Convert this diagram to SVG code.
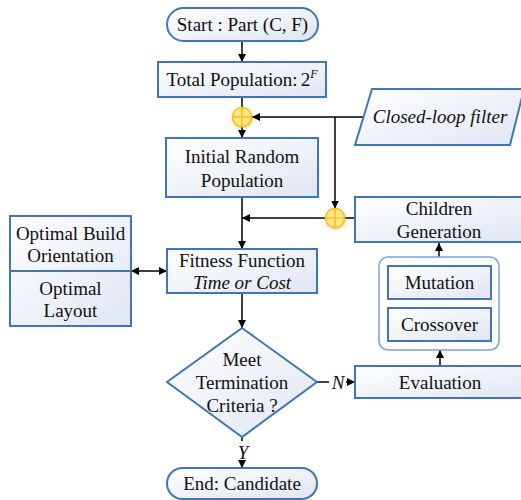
<svg xmlns="http://www.w3.org/2000/svg" width="521" height="500" viewBox="0 0 521 500">
  <defs>
    <linearGradient id="boxFill" x1="0" y1="0" x2="1" y2="1">
      <stop offset="0" stop-color="#ffffff"/>
      <stop offset="1" stop-color="#dfe6f3"/>
    </linearGradient>
    <marker id="arrow" viewBox="0 0 10 10" refX="10" refY="5" markerWidth="8" markerHeight="8" orient="auto-start-reverse" markerUnits="userSpaceOnUse">
      <path d="M0,0 L10,5 L0,10 z" fill="#000"/>
    </marker>
    <filter id="glow" x="-50%" y="-50%" width="200%" height="200%">
      <feDropShadow dx="0.5" dy="1" stdDeviation="0.8" flood-color="#c09000" flood-opacity="0.5"/>
    </filter>
    <g id="sum">
      <circle r="9.5" fill="#ffe699" stroke="#ffc000" stroke-width="1.5" filter="url(#glow)"/>
      <path d="M-9.5,0 H9.5 M0,-9.5 V9.5" stroke="#ffc000" stroke-width="1.5"/>
    </g>
  </defs>
  <style>
    .shape { fill: url(#boxFill); stroke: #3f76b8; stroke-width: 2; }
    .outer { fill: #ffffff; stroke: #7aa3d4; stroke-width: 1.5; }
    .lbl { font-family: "Liberation Serif", "DejaVu Serif", serif; font-size: 19px; fill: #111; text-anchor: middle; }
    .it { font-style: italic; }
    .wire { fill: none; stroke: #000; stroke-width: 1.5; }
  </style>

  <!-- connectors -->
  <g id="connectors">
    <path class="wire" d="M242,41 V62" marker-end="url(#arrow)"/>
    <path class="wire" d="M242,97 V107.5"/>
    <path class="wire" d="M242,126.5 V138" marker-end="url(#arrow)"/>
    <path class="wire" d="M364,117 H252" marker-end="url(#arrow)"/>
    <path class="wire" d="M335,117 V208.5" marker-end="url(#arrow)"/>
    <path class="wire" d="M355,218 H344.5"/>
    <path class="wire" d="M325.5,218 H242" marker-end="url(#arrow)"/>
    <path class="wire" d="M242,197 V249" marker-end="url(#arrow)"/>
    <path class="wire" d="M131,271 H167" marker-start="url(#arrow)" marker-end="url(#arrow)"/>
    <path class="wire" d="M242,293 V328" marker-end="url(#arrow)"/>
    <path class="wire" d="M317,382 H329"/>
    <path class="wire" d="M346,382 H355" marker-end="url(#arrow)"/>
    <path class="wire" d="M440,366 V350" marker-end="url(#arrow)"/>
    <path class="wire" d="M439,257 V243" marker-end="url(#arrow)"/>
    <path class="wire" d="M242,437 V441"/>
    <path class="wire" d="M242,463 V468" marker-end="url(#arrow)"/>
    <text class="lbl it" x="338" y="389">N</text>
    <text class="lbl it" x="243" y="459">Y</text>
  </g>

  <g id="start">
    <rect class="shape" x="167" y="8" width="151" height="33" rx="16.5"/>
    <text class="lbl" x="242.5" y="31">Start : Part (C, F)</text>
  </g>

  <g id="total-population">
    <rect class="shape" x="158" y="62" width="168" height="35"/>
    <text class="lbl" x="242" y="86">Total Population:<tspan dx="3">2</tspan><tspan class="it" font-size="12" dy="-8">F</tspan></text>
  </g>

  <g id="sum-top"><use href="#sum" x="242" y="117"/></g>

  <g id="closed-loop-filter">
    <polygon class="shape" points="372,89 524,89 510,145 355,145"/>
    <text class="lbl it" x="440" y="123">Closed-loop filter</text>
  </g>

  <g id="initial-population">
    <rect class="shape" x="166" y="138" width="152" height="59"/>
    <text class="lbl" x="242" y="163">Initial Random</text>
    <text class="lbl" x="242" y="187">Population</text>
  </g>

  <g id="sum-children"><use href="#sum" x="335" y="218"/></g>

  <g id="children-generation">
    <rect class="shape" x="355" y="197" width="168" height="45"/>
    <text class="lbl" x="439" y="215">Children</text>
    <text class="lbl" x="439" y="238">Generation</text>
  </g>

  <g id="optimal">
    <rect class="shape" x="10" y="216" width="121" height="110"/>
    <line x1="10" y1="271" x2="131" y2="271" stroke="#3f76b8" stroke-width="2"/>
    <text class="lbl" x="70.5" y="240">Optimal Build</text>
    <text class="lbl" x="70.5" y="262">Orientation</text>
    <text class="lbl" x="70.5" y="295">Optimal</text>
    <text class="lbl" x="70.5" y="317">Layout</text>
  </g>

  <g id="fitness">
    <rect class="shape" x="167" y="249" width="150" height="44"/>
    <text class="lbl" x="242" y="267">Fitness Function</text>
    <text class="lbl it" x="242" y="289">Time or Cost</text>
  </g>

  <g id="operators">
    <rect class="outer" x="379" y="257" width="120" height="93" rx="9"/>
    <rect class="shape" x="388" y="266" width="103" height="33"/>
    <text class="lbl" x="439.5" y="289">Mutation</text>
    <rect class="shape" x="388" y="308" width="103" height="33"/>
    <text class="lbl" x="439.5" y="331">Crossover</text>
  </g>

  <g id="termination">
    <polygon class="shape" points="242,328 317,382 242,437 167,382"/>
    <text class="lbl" x="242" y="366">Meet</text>
    <text class="lbl" x="242" y="389">Termination</text>
    <text class="lbl" x="242" y="412">Criteria ?</text>
  </g>

  <g id="evaluation">
    <rect class="shape" x="355" y="366" width="168" height="32"/>
    <text class="lbl" x="440" y="389">Evaluation</text>
  </g>

  <g id="end">
    <rect class="shape" x="167" y="468" width="150" height="31" rx="15.5"/>
    <text class="lbl" x="242" y="490">End: Candidate</text>
  </g>
</svg>
